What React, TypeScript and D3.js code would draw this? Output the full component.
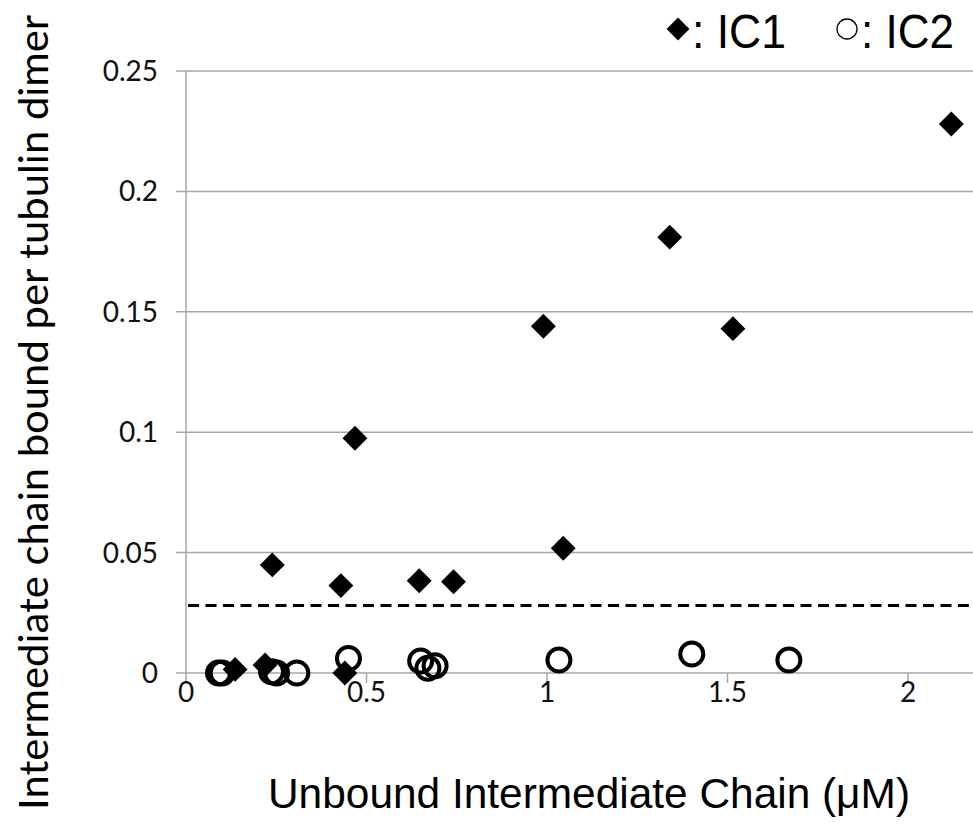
import { useEffect, useRef } from "react";
import * as d3 from "d3";

// IC1 points (filled diamonds)
const ic1X = [2.12, 1.34, 1.515, 0.99, 0.468, 1.045, 0.429, 0.646, 0.741, 0.239, 0.136, 0.219, 0.44];
const ic1Y = [0.228, 0.181, 0.143, 0.144, 0.0975, 0.0518, 0.0363, 0.0383, 0.0379, 0.0449, 0.0015, 0.0033, 0.0];

// IC2 points (open circles)
const ic2X = [0.09, 0.1, 0.237, 0.251, 0.307, 0.45, 0.65, 0.67, 0.69, 1.033, 1.401, 1.67];
const ic2Y = [0.0, 0.0, 0.0005, 0.0, 0.0, 0.006, 0.005, 0.002, 0.003, 0.0054, 0.0079, 0.0054];

const xTicks = [0, 0.5, 1, 1.5, 2];
const yTicks = [0, 0.05, 0.1, 0.15, 0.2, 0.25];
const threshold = 0.028;

const App = () => {
  const svgRef = useRef<SVGSVGElement | null>(null);
  const width = 973;
  const height = 834;

  useEffect(() => {
    if (!svgRef.current) return;
    const svg = d3.select(svgRef.current);
    svg.selectAll("*").remove();

    const x = d3.scaleLinear().domain([0, 2.18]).range([186, 973]);
    const y = d3.scaleLinear().domain([0, 0.25]).range([673, 71]);

    const grid = "#a6a6a6";
    const tickFont = "Lato, 'Open Sans', sans-serif";
    const titleFont = "'Liberation Sans', Arial, sans-serif";

    // horizontal gridlines
    svg.append("g")
      .selectAll("line")
      .data(yTicks)
      .join("line")
      .attr("x1", 176)
      .attr("x2", width)
      .attr("y1", (d) => y(d))
      .attr("y2", (d) => y(d))
      .attr("stroke", grid)
      .attr("stroke-width", 1.5);

    // y axis line
    svg.append("line")
      .attr("x1", x(0)).attr("x2", x(0))
      .attr("y1", y(0.25)).attr("y2", y(0) + 10)
      .attr("stroke", grid).attr("stroke-width", 1.5);

    // x tick marks
    svg.append("g")
      .selectAll("line")
      .data(xTicks.slice(1))
      .join("line")
      .attr("x1", (d) => x(d)).attr("x2", (d) => x(d))
      .attr("y1", y(0)).attr("y2", y(0) + 10)
      .attr("stroke", grid).attr("stroke-width", 1.5);

    // y tick labels
    svg.append("g")
      .selectAll("text")
      .data(yTicks)
      .join("text")
      .attr("x", 158)
      .attr("y", (d) => y(d) + 10)
      .attr("text-anchor", "end")
      .attr("font-family", tickFont)
      .attr("font-size", 28)
      .attr("fill", "#111")
      .text((d) => (d === 0 ? "0" : String(d)));

    // x tick labels
    svg.append("g")
      .selectAll("text")
      .data(xTicks)
      .join("text")
      .attr("x", (d) => x(d))
      .attr("y", 702)
      .attr("text-anchor", "middle")
      .attr("font-family", tickFont)
      .attr("font-size", 28)
      .attr("fill", "#111")
      .text((d) => String(d));

    // dashed threshold line
    svg.append("line")
      .attr("x1", x(0) + 2).attr("x2", width)
      .attr("y1", y(threshold)).attr("y2", y(threshold))
      .attr("stroke", "#000").attr("stroke-width", 3)
      .attr("stroke-dasharray", "11,6.5");

    // IC2 circles
    const ic2 = ic2X.map((v, i) => [v, ic2Y[i]]);
    svg.append("g")
      .selectAll("circle")
      .data(ic2)
      .join("circle")
      .attr("cx", (d) => x(d[0]))
      .attr("cy", (d) => y(d[1]))
      .attr("r", 11.5)
      .attr("fill", "none")
      .attr("stroke", "#000")
      .attr("stroke-width", 4);

    // IC1 diamonds
    const ic1 = ic1X.map((v, i) => [v, ic1Y[i]]);
    const diamond = d3.symbol().type(d3.symbolSquare).size(310);
    svg.append("g")
      .selectAll("path")
      .data(ic1)
      .join("path")
      .attr("d", diamond)
      .attr("transform", (d) => `translate(${x(d[0])},${y(d[1])}) rotate(45)`)
      .attr("fill", "#000");

    // x axis title
    svg.append("text")
      .attr("x", 268)
      .attr("y", 808)
      .attr("font-family", titleFont)
      .attr("font-size", 43)
      .attr("fill", "#000")
      .attr("textLength", 642)
      .attr("lengthAdjust", "spacingAndGlyphs")
      .text("Unbound Intermediate Chain (\u03bcM)");

    // y axis title
    svg.append("text")
      .attr("transform", "translate(48,810) rotate(-90)")
      .attr("font-family", tickFont)
      .attr("font-size", 40)
      .attr("fill", "#000")
      .attr("textLength", 795)
      .attr("lengthAdjust", "spacingAndGlyphs")
      .text("Intermediate chain bound per tubulin dimer");

    // legend
    const lg = svg.append("g").attr("font-family", titleFont).attr("font-size", 48).attr("fill", "#000");
    lg.append("path")
      .attr("d", d3.symbol().type(d3.symbolSquare).size(260)())
      .attr("transform", "translate(678,29) rotate(45)")
      .attr("fill", "#000");
    lg.append("text")
      .attr("x", 692).attr("y", 48)
      .attr("textLength", 94).attr("lengthAdjust", "spacingAndGlyphs")
      .text(": IC1");
    lg.append("circle")
      .attr("cx", 847).attr("cy", 29).attr("r", 10)
      .attr("fill", "none").attr("stroke", "#000").attr("stroke-width", 1.3);
    lg.append("text")
      .attr("x", 861).attr("y", 48)
      .attr("textLength", 93).attr("lengthAdjust", "spacingAndGlyphs")
      .text(": IC2");
  }, []);

  return (
    <div style={{ position: "absolute", left: 0, top: 0, width, height, background: "#fff" }}>
      <svg ref={svgRef} width={width} height={height} viewBox={`0 0 ${width} ${height}`} />
    </div>
  );
};

export default App;
